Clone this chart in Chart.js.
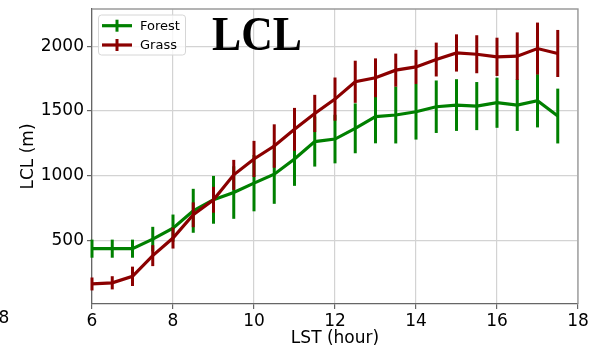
<!DOCTYPE html>
<html>
<head>
<meta charset="utf-8">
<script src="https://cdn.jsdelivr.net/npm/chart.js@4.4.1/dist/chart.umd.min.js"></script>
<style>
  html, body { margin: 0; padding: 0; background: #fff; }
  #wrap { width: 590px; height: 354px; }
</style>
</head>
<body>
<div id="wrap"><canvas id="lcl" width="590" height="354"></canvas></div>
<script>
// LCL by hour, forest vs grass
var hours = [6, 6.5, 7, 7.5, 8, 8.5, 9, 9.5, 10, 10.5, 11, 11.5, 12, 12.5, 13, 13.5, 14, 14.5, 15, 15.5, 16, 16.5, 17, 17.5];
var forest = [434, 434, 434, 508, 593, 727, 812, 868, 941, 1010, 1128, 1262, 1282, 1365, 1455, 1468, 1493, 1532, 1545, 1537, 1563, 1545, 1578, 1460];
var forestErr = [70, 70, 70, 95, 105, 170, 185, 203, 218, 229, 208, 193, 188, 193, 206, 220, 215, 203, 200, 186, 194, 200, 206, 212];
var grass = [161, 170, 220, 380, 516, 696, 812, 1005, 1128, 1228, 1357, 1480, 1591, 1725, 1756, 1815, 1840, 1897, 1948, 1938, 1918, 1923, 1982, 1944];
var grassErr = [50, 51, 75, 81, 81, 96, 100, 116, 140, 168, 166, 144, 167, 163, 150, 128, 132, 131, 144, 147, 148, 184, 201, 182];

var xTicks = [6, 8, 10, 12, 14, 16, 18];
var yTicks = [500, 1000, 1500, 2000];

var FONT = "DejaVu Sans";
var GREEN = "#008000";
var RED = "#8b0000";

function points(vals) {
  return hours.map(function (h, i) { return { x: h, y: vals[i] }; });
}

// vertical error bars, drawn right after each dataset's line
var errorBars = {
  id: "errorBars",
  afterDatasetDraw: function (chart, args) {
    var ds = chart.data.datasets[args.index];
    if (!ds.errors) return;
    var xs = chart.scales.x, ys = chart.scales.y;
    var ctx = chart.ctx;
    ctx.save();
    ctx.strokeStyle = ds.borderColor;
    ctx.lineWidth = 3;
    ctx.lineCap = "butt";
    ds.data.forEach(function (p, i) {
      var px = xs.getPixelForValue(p.x);
      ctx.beginPath();
      ctx.moveTo(px, ys.getPixelForValue(p.y - ds.errors[i]));
      ctx.lineTo(px, ys.getPixelForValue(p.y + ds.errors[i]));
      ctx.stroke();
    });
    ctx.restore();
  }
};

// frame, title, legend and the stray tick label
var extras = {
  id: "extras",
  afterDraw: function (chart) {
    var ctx = chart.ctx;
    var a = chart.chartArea;
    ctx.save();

    // top and right spines
    ctx.strokeStyle = "#9a9a9a";
    ctx.lineWidth = 1.3;
    ctx.beginPath();
    ctx.moveTo(a.left, a.top);
    ctx.lineTo(a.right, a.top);
    ctx.lineTo(a.right, a.bottom);
    ctx.stroke();

    // big title
    ctx.save();
    ctx.translate(257, 50);
    ctx.scale(0.91, 1);
    ctx.font = "bold 48px 'Liberation Serif'";
    ctx.fillStyle = "#000";
    ctx.textAlign = "center";
    ctx.textBaseline = "alphabetic";
    ctx.fillText("LCL", 0, 0);
    ctx.restore();

    // legend box
    var bx = 98.5, by = 15, bw = 87, bh = 40, r = 3;
    ctx.beginPath();
    ctx.moveTo(bx + r, by);
    ctx.arcTo(bx + bw, by, bx + bw, by + bh, r);
    ctx.arcTo(bx + bw, by + bh, bx, by + bh, r);
    ctx.arcTo(bx, by + bh, bx, by, r);
    ctx.arcTo(bx, by, bx + bw, by, r);
    ctx.closePath();
    ctx.fillStyle = "rgba(255,255,255,0.8)";
    ctx.fill();
    ctx.strokeStyle = "#d6d6d6";
    ctx.lineWidth = 1;
    ctx.stroke();

    var rows = [{ y: 25.7, ds: chart.data.datasets[0] }, { y: 45, ds: chart.data.datasets[1] }];
    rows.forEach(function (row) {
      ctx.strokeStyle = row.ds.borderColor;
      ctx.lineWidth = 3.2;
      ctx.beginPath();
      ctx.moveTo(102, row.y);
      ctx.lineTo(132, row.y);
      ctx.stroke();
      ctx.lineWidth = 3;
      ctx.beginPath();
      ctx.moveTo(117, row.y - 6);
      ctx.lineTo(117, row.y + 6);
      ctx.stroke();
      ctx.fillStyle = "#000";
      ctx.font = "13px '" + FONT + "'";
      ctx.textAlign = "left";
      ctx.textBaseline = "middle";
      ctx.fillText(row.ds.label, 140, row.y + 0.5);
    });

    // leftover "8" at the far left of the x axis row
    ctx.font = "17px '" + FONT + "'";
    ctx.fillStyle = "#000";
    ctx.textAlign = "center";
    ctx.textBaseline = "middle";
    ctx.fillText("8", 4, 319);

    ctx.restore();
  }
};

var chart = new Chart(document.getElementById("lcl").getContext("2d"), {
  type: "line",
  data: {
    datasets: [
      {
        label: "Forest",
        data: points(forest),
        errors: forestErr,
        borderColor: GREEN,
        backgroundColor: GREEN,
        borderWidth: 3.2,
        pointRadius: 0,
        tension: 0,
        fill: false,
        order: 1
      },
      {
        label: "Grass",
        data: points(grass),
        errors: grassErr,
        borderColor: RED,
        backgroundColor: RED,
        borderWidth: 3.2,
        pointRadius: 0,
        tension: 0,
        fill: false,
        order: 0
      }
    ]
  },
  options: {
    responsive: false,
    animation: false,
    devicePixelRatio: 1,
    layout: { padding: { left: 0, right: 12, top: 9, bottom: 0 } },
    plugins: {
      legend: { display: false },
      tooltip: { enabled: false }
    },
    scales: {
      x: {
        type: "linear",
        min: 6,
        max: 18,
        afterBuildTicks: function (s) { s.ticks = xTicks.map(function (v) { return { value: v }; }); },
        afterFit: function (s) { s.height = 50; s.paddingLeft = 0; s.paddingRight = 0; },
        grid: { color: "#d3d3d3", lineWidth: 1.2, tickColor: "#666", tickLength: 5 },
        border: { color: "#666", width: 1.3 },
        ticks: { color: "#000", font: { family: FONT, size: 17 }, padding: 2, maxRotation: 0,
          callback: function (v) { return String(v); } },
        title: { display: true, text: "LST (hour)", color: "#000", font: { family: FONT, size: 17 }, padding: { top: 0, bottom: 5 } }
      },
      y: {
        min: 6,
        max: 2288,
        afterBuildTicks: function (s) { s.ticks = yTicks.map(function (v) { return { value: v }; }); },
        afterFit: function (s) { s.width = 92; s.paddingTop = 0; s.paddingBottom = 0; },
        grid: { color: "#d3d3d3", lineWidth: 1.2, tickColor: "#666", tickLength: 5 },
        border: { color: "#666", width: 1.3 },
        ticks: { color: "#000", font: { family: FONT, size: 17 }, padding: 3,
          callback: function (v) { return String(v); } },
        title: { display: true, text: "LCL (m)", color: "#000", font: { family: FONT, size: 17 }, padding: { top: 18, bottom: 0 } }
      }
    }
  },
  plugins: [errorBars, extras]
});
</script>
</body>
</html>
